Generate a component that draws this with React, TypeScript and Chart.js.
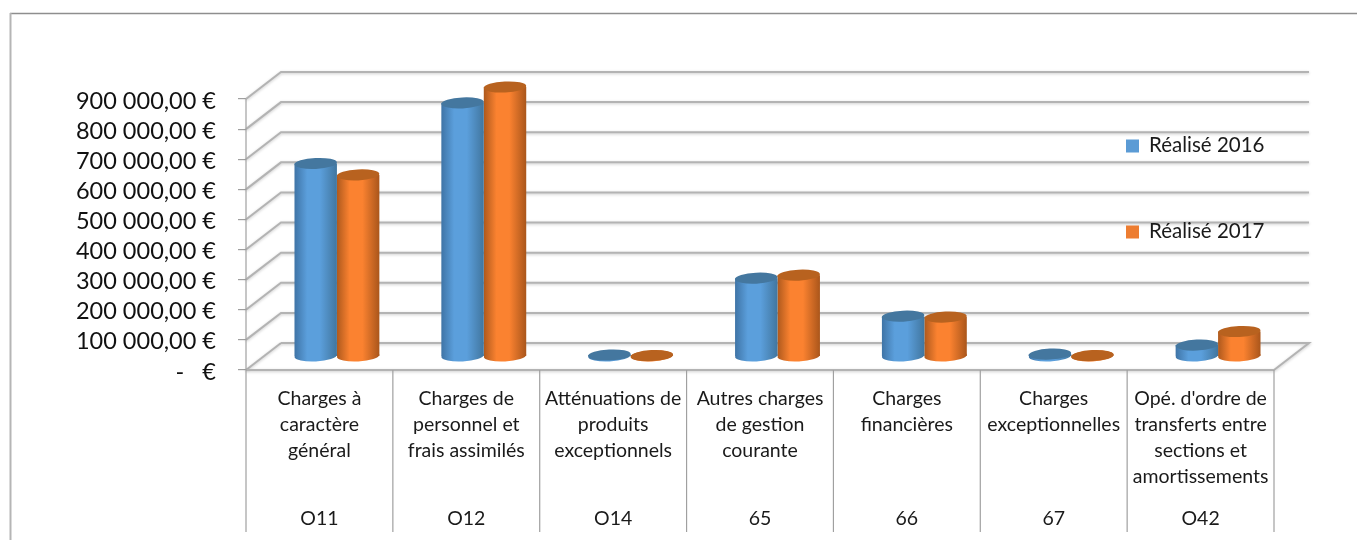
import React, { useEffect, useRef } from "react";
import { Chart, registerables } from "chart.js";

Chart.register(...registerables);

const categories: string[][] = [
  ["Charges à", "caractère", "général"],
  ["Charges de", "personnel et", "frais assimilés"],
  ["Atténuations de", "produits", "exceptionnels"],
  ["Autres charges", "de gestion", "courante"],
  ["Charges", "financières"],
  ["Charges", "exceptionnelles"],
  ["Opé. d'ordre de", "transferts entre", "sections et", "amortissements"],
];
const codes = ["O11", "O12", "O14", "65", "66", "67", "O42"];
const realise2016 = [641000, 842000, 5000, 260000, 134000, 8000, 38000];
const realise2017 = [603000, 895000, 3000, 270000, 131000, 3000, 83000];
const seriesNames = ["Réalisé 2016", "Réalisé 2017"];

const FONT = "Lato, Carlito, 'Open Sans', sans-serif";
const DEPTH_X = 35;
const DEPTH_Y = -27;
const GRID = "#b3b3b3";
const CAT_PCT = 0.578;

const shades = [
  { edgeL: "#3f74a6", mid: "#5b9fdc", edgeR: "#41769f", cap: "#44779f", flat: "#5b9bd5" },
  { edgeL: "#ae591d", mid: "#fb8230", edgeR: "#aa561b", cap: "#b8621f", flat: "#ed7d31" },
];

function barFill(c: any) {
  const s = shades[c.datasetIndex] ?? shades[0];
  if (c.dataIndex === undefined) return s.flat;
  const x = c.chart.scales.x;
  const step = x.width / categories.length;
  const w = (step * CAT_PCT) / 2;
  const cx = x.getPixelForValue(c.dataIndex) + (c.datasetIndex === 0 ? -w / 2 : w / 2);
  if (!Number.isFinite(cx) || !Number.isFinite(w)) return s.flat;
  const g = c.chart.ctx.createLinearGradient(cx - w / 2, 0, cx + w / 2, 0);
  g.addColorStop(0, s.edgeL);
  g.addColorStop(0.3, s.mid);
  g.addColorStop(0.6, s.mid);
  g.addColorStop(1, s.edgeR);
  return g;
}

const scene = {
  id: "scene",
  beforeDatasetsDraw(chart: any) {
    const { ctx, scales } = chart;
    const y = scales.y;
    const x = scales.x;
    const a = chart.chartArea;
    ctx.save();
    // frame
    ctx.strokeStyle = "#8e8e8e";
    ctx.lineWidth = 1.5;
    ctx.beginPath();
    ctx.moveTo(10, 13.5);
    ctx.lineTo(1357, 13.5);
    ctx.stroke();
    ctx.strokeStyle = "#b5b5b5";
    ctx.lineWidth = 2;
    ctx.beginPath();
    ctx.moveTo(10.5, 13);
    ctx.lineTo(10.5, 540);
    ctx.stroke();
    // walls
    ctx.strokeStyle = GRID;
    ctx.lineWidth = 2;
    ctx.shadowColor = "rgba(0,0,0,0.22)";
    ctx.shadowBlur = 3;
    ctx.shadowOffsetY = 1;
    y.ticks.forEach((t: any) => {
      const py = y.getPixelForValue(t.value);
      ctx.beginPath();
      ctx.moveTo(a.left, py);
      ctx.lineTo(a.left + DEPTH_X, py + DEPTH_Y);
      if (t.value !== 0) ctx.lineTo(a.right + DEPTH_X, py + DEPTH_Y);
      ctx.stroke();
    });
    const y0 = y.getPixelForValue(0);
    ctx.beginPath();
    ctx.moveTo(a.left + DEPTH_X, y0 + DEPTH_Y);
    ctx.lineTo(a.right + DEPTH_X, y0 + DEPTH_Y);
    ctx.lineTo(a.right, y0);
    ctx.stroke();
    ctx.beginPath();
    ctx.moveTo(a.left, y0);
    ctx.lineTo(a.right, y0);
    ctx.stroke();
    ctx.shadowColor = "transparent";
    // category dividers
    const step = x.width / categories.length;
    ctx.strokeStyle = "#a0a0a0";
    ctx.lineWidth = 1.2;
    for (let i = 0; i <= categories.length; i++) {
      const px = x.getPixelForValue(0) - step / 2 + i * step;
      ctx.beginPath();
      ctx.moveTo(px, y0);
      ctx.lineTo(px, 532);
      ctx.stroke();
    }
    ctx.beginPath();
    ctx.moveTo(a.left, y.getPixelForValue(y.max));
    ctx.lineTo(a.left, y0);
    ctx.stroke();
    // legend
    ctx.textAlign = "left";
    ctx.textBaseline = "middle";
    ctx.font = `20.5px ${FONT}`;
    const legendX = a.right - 148;
    [146, 232].forEach((ly, i) => {
      ctx.fillStyle = shades[i].flat;
      ctx.fillRect(legendX, ly - 6.5, 13, 13);
      ctx.fillStyle = "#1a1a1a";
      ctx.fillText(seriesNames[i], legendX + 23, ly - 1);
    });
    ctx.restore();
  },
  beforeDatasetDraw(chart: any) {
    chart.ctx.save();
    chart.ctx.translate(DEPTH_X / 2, DEPTH_Y / 2);
  },
  afterDatasetDraw(chart: any, args: any) {
    const { ctx } = chart;
    const s = shades[args.index];
    args.meta.data.forEach((el: any) => {
      const { x, y, base, width } = el.getProps(["x", "y", "base", "width"], true);
      const rx = width / 2;
      const tilt = -0.05;
      ctx.beginPath();
      ctx.ellipse(x, base, rx, 5.5, tilt, 0, Math.PI * 2);
      ctx.fillStyle = el.options.backgroundColor;
      ctx.fill();
      ctx.beginPath();
      ctx.ellipse(x, y, rx, 5.5, tilt, 0, Math.PI * 2);
      ctx.fillStyle = s.cap;
      ctx.fill();
    });
    ctx.restore();
  },
};

export default function App() {
  const ref = useRef<HTMLCanvasElement>(null);
  useEffect(() => {
    document.body.style.margin = "0";
    const chart = new Chart(ref.current!, {
      type: "bar",
      data: {
        labels: categories as any,
        datasets: [
          { label: seriesNames[0], data: realise2016, backgroundColor: barFill as any, clip: false as any, xAxisID: "x" },
          { label: seriesNames[1], data: realise2017, backgroundColor: barFill as any, clip: false as any, xAxisID: "x" },
        ],
      },
      options: {
        animation: false,
        responsive: false,
        layout: { padding: { top: 99, right: 83, left: 0, bottom: 0 } },
        datasets: { bar: { barPercentage: 1, categoryPercentage: CAT_PCT } },
        plugins: { legend: { display: false }, tooltip: { enabled: false }, title: { display: false } },
        scales: {
          x: {
            type: "category",
            position: "bottom",
            offset: true,
            grid: { display: false, drawTicks: false },
            border: { display: false },
            afterFit: (s: any) => { s.height = 130; },
            ticks: {
              autoSkip: false,
              maxRotation: 0,
              minRotation: 0,
              padding: 16,
              color: "#1a1a1a",
              font: { family: FONT, size: 19.5, lineHeight: "26px" as any },
            },
          },
          x2: {
            type: "category",
            position: "bottom",
            labels: codes,
            offset: true,
            grid: { display: false, drawTicks: false },
            border: { display: false },
            afterFit: (s: any) => { s.height = 40; },
            ticks: {
              autoSkip: false,
              maxRotation: 0,
              padding: 6,
              color: "#1a1a1a",
              font: { family: FONT, size: 19.5, lineHeight: "26px" as any },
            },
          },
          y: {
            min: 0,
            max: 900000,
            afterFit: (s: any) => { s.width = 246; },
            grid: { drawOnChartArea: false, color: "#a0a0a0", tickLength: 8, lineWidth: 1.2 },
            border: { display: false },
            ticks: {
              autoSkip: false,
              stepSize: 100000,
              padding: 22,
              labelOffset: 2,
              color: "#111111",
              font: { family: FONT, size: 23.5 },
              callback: (v: any) =>
                v === 0 ? "-   €" : `${Math.round(v / 1000)} 000,00 €`,
            },
          },
        },
      } as any,
      plugins: [scene],
    });
    return () => chart.destroy();
  }, []);
  return <canvas ref={ref} width={1357} height={540} style={{ display: "block" }} />;
}
